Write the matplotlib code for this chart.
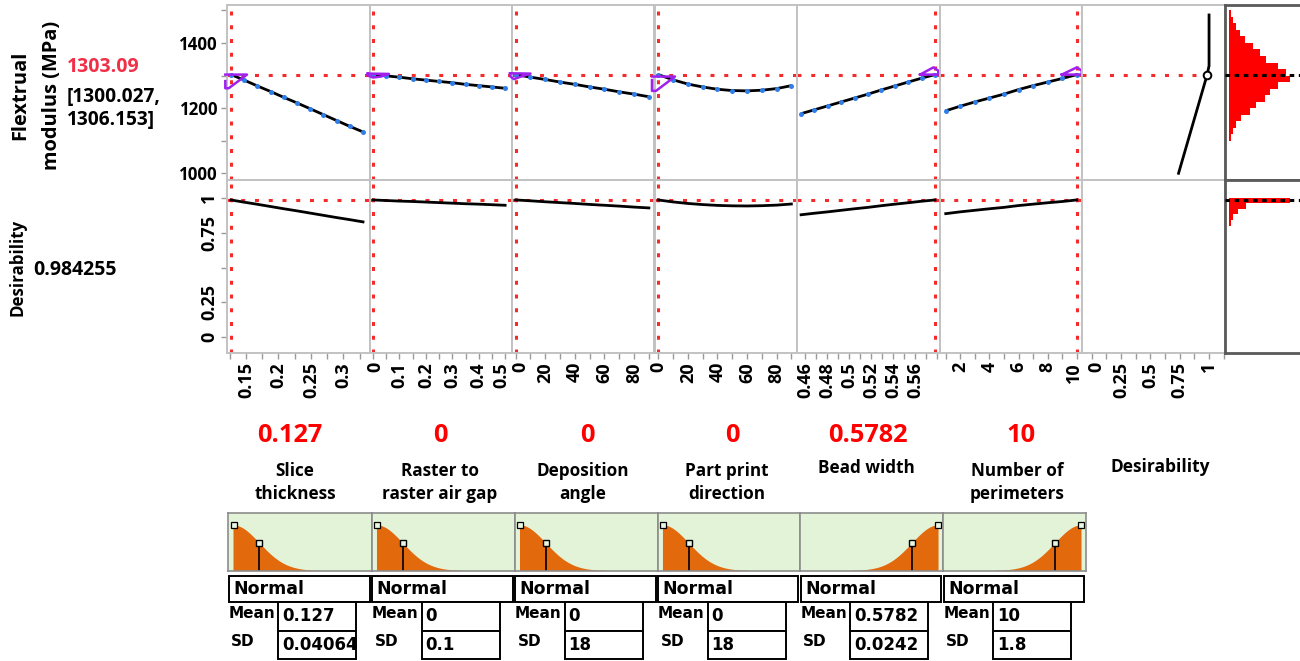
import numpy as np
import matplotlib
matplotlib.use("Agg")
import matplotlib.pyplot as plt
from matplotlib.patches import Rectangle
from matplotlib.transforms import ScaledTranslation

# ---------------- data ----------------
factor_names = ["Slice\nthickness", "Raster to\nraster air gap", "Deposition\nangle",
                "Part print\ndirection", "Bead width", "Number of\nperimeters"]
current_values = [0.127, 0, 0, 0, 0.5782, 10]
current_labels = ["0.127", "0", "0", "0", "0.5782", "10"]
predicted = 1303.09
predicted_label = "1303.09"
ci_label = "[1300.027,\n1306.153]"
desirability = 0.984255
desirability_label = "0.984255"

slice_x = [0.127, 0.1473, 0.1676, 0.1879, 0.2082, 0.2285, 0.2488, 0.2691, 0.2894, 0.3097, 0.330]
slice_flex = [1303, 1286, 1268, 1251, 1233, 1216, 1198, 1180, 1162, 1144, 1127]
slice_des = [0.984, 0.968, 0.953, 0.937, 0.921, 0.906, 0.890, 0.874, 0.858, 0.843, 0.827]

gap_x = [0, 0.05, 0.1, 0.15, 0.2, 0.25, 0.3, 0.35, 0.4, 0.45, 0.5]
gap_flex = [1303, 1299, 1295, 1290, 1286, 1282, 1278, 1273, 1269, 1265, 1261]
gap_des = [0.984, 0.980, 0.976, 0.973, 0.969, 0.965, 0.961, 0.957, 0.954, 0.950, 0.946]

dep_x = [0, 10, 20, 30, 40, 50, 60, 70, 80, 90]
dep_flex = [1303, 1295, 1288, 1280, 1273, 1265, 1258, 1250, 1243, 1235]
dep_des = [0.984, 0.978, 0.971, 0.965, 0.959, 0.952, 0.946, 0.940, 0.933, 0.927]

dir_x = [0, 10, 20, 30, 40, 50, 60, 70, 80, 90]
dir_flex = [1303, 1287, 1274, 1265, 1258, 1254, 1253, 1255, 1260, 1269]
dir_des = [0.984, 0.970, 0.959, 0.951, 0.945, 0.942, 0.941, 0.943, 0.947, 0.955]

bead_x = [0.4564, 0.4686, 0.4808, 0.4929, 0.5051, 0.5173, 0.5295, 0.5417, 0.5538, 0.5660, 0.5782]
bead_flex = [1183, 1195, 1207, 1219, 1231, 1243, 1256, 1268, 1280, 1292, 1303]
bead_des = [0.878, 0.889, 0.899, 0.910, 0.921, 0.931, 0.943, 0.954, 0.964, 0.975, 0.984]

perim_x = [1, 2, 3, 4, 5, 6, 7, 8, 9, 10]
perim_flex = [1192, 1206, 1219, 1231, 1243, 1257, 1269, 1280, 1291, 1303]
perim_des = [0.886, 0.899, 0.910, 0.921, 0.931, 0.944, 0.954, 0.964, 0.973, 0.984]

# desirability function (desirability vs flexural modulus)
dfun_d = [0.74, 0.984255, 1.0, 1.0]
dfun_flex = [1000, 1303.09, 1330, 1486]

# purple interval glyphs
purple_x = [[0.1182, 0.1182, 0.1234, 0.1516, 0.1182],
            [-0.02, 0.06, 0.03, 0.0, -0.02, -0.02],
            [-3.8, 10.0, 3.0, -1.2, -3.8, -3.8],
            [-4.2, -4.2, -1.5, 11.35, -4.2],
            [0.5646, 0.5767, 0.5812, 0.5812, 0.5646],
            [8.97, 10.0, 10.34, 10.34, 8.97]]
purple_y = [[1283, 1261, 1261, 1303, 1303],
            [1306, 1305, 1297, 1294, 1300, 1306],
            [1307, 1306, 1296, 1289, 1298, 1307],
            [1286, 1253, 1253, 1297, 1297],
            [1303, 1325, 1315, 1303, 1303],
            [1303, 1325, 1315, 1303, 1303]]

# simulated distributions (right-hand histograms)
hist_flex_edges = [1100, 1120, 1140, 1160, 1180, 1200, 1220, 1240, 1260, 1280, 1300,
                   1320, 1340, 1360, 1380, 1400, 1420, 1440, 1460, 1480, 1500]
hist_flex_counts = [2, 4, 7, 12, 21, 27, 36, 41, 49, 61, 57, 49, 37, 31, 24, 16, 11, 7, 4, 2]
hist_des_edges = [0.80, 0.84, 0.88, 0.92, 0.96, 1.0]
hist_des_counts = [1.5, 4, 9, 17, 61]

# simulator settings
sim_means = [0.127, 0, 0, 0, 0.5782, 10]
sim_sds = [0.04064, 0.1, 18, 18, 0.0242, 1.8]
sim_mean_labels = ["0.127", "0", "0", "0", "0.5782", "10"]
sim_sd_labels = ["0.04064", "0.1", "18", "18", "0.0242", "1.8"]
sim_tail = [1, 1, 1, 1, -1, -1]

xticks = [[0.15, 0.2, 0.25, 0.3], [0, 0.1, 0.2, 0.3, 0.4, 0.5], [0, 20, 40, 60, 80],
          [0, 20, 40, 60, 80], [0.46, 0.48, 0.5, 0.52, 0.54, 0.56], [2, 4, 6, 8, 10],
          [0, 0.25, 0.5, 0.75, 1]]
xticklabels = [["0.15", "0.2", "0.25", "0.3"], ["0", "0.1", "0.2", "0.3", "0.4", "0.5"],
               ["0", "20", "40", "60", "80"], ["0", "20", "40", "60", "80"],
               ["0.46", "0.48", "0.5", "0.52", "0.54", "0.56"], ["2", "4", "6", "8", "10"],
               ["0", "0.25", "0.5", "0.75", "1"]]

# ---------------- layout ----------------
plt.rcParams['font.family'] = ['Open Sans', 'DejaVu Sans']
plt.rcParams['font.weight'] = 'bold'

W, H = 1300, 661
fig = plt.figure(figsize=(13, 6.61), dpi=100)
fig.patch.set_facecolor('white')

def R(x0, y0, x1, y1):
    return [x0 / W, 1 - y1 / H, (x1 - x0) / W, (y1 - y0) / H]

def nudge(label, dx_px):
    label.set_transform(label.get_transform() +
                        ScaledTranslation(dx_px / fig.dpi, 0, fig.dpi_scale_trans))

xe = [227, 369.5, 512, 654.5, 797, 939.5, 1082, 1225]
xlims = [(0.1208, 0.340), (-0.0135, 0.526), (-2.5, 93.8), (-2.5, 93.8),
         (0.4527, 0.5823), (0.57, 10.36), (-0.083, 1.136)]
minor_steps = [0.025, 0.05, 10, 10, 0.01, 1, 0.125]
# small horizontal shifts (px) of crowded tick labels at panel joins
label_shift = {(1, 5): -4, (2, 0): 5, (5, 4): -3, (6, 0): 5, (1, 0): 2}
top_ylim = (979.4, 1516.6)
bot_ylim = (-0.112, 1.127)

RED = '#f52a2a'
GRID = '#c2c2c2'
BLUE = '#2f7fe8'
PURPLE = '#a020f0'
red_kw = dict(color=RED, lw=2.2, dashes=(1.3, 3.2), zorder=1)

curves_x = [slice_x, gap_x, dep_x, dir_x, bead_x, perim_x]
curves_f = [slice_flex, gap_flex, dep_flex, dir_flex, bead_flex, perim_flex]
curves_d = [slice_des, gap_des, dep_des, dir_des, bead_des, perim_des]

def style(ax, color=GRID, lw=1.4):
    for s in ax.spines.values():
        s.set_color(color)
        s.set_linewidth(lw)
    ax.tick_params(which='both', direction='out', length=4.5, width=1.0, color='#9a9a9a',
                   labelsize=13, pad=2)

for i in range(7):
    axt = fig.add_axes(R(xe[i], 5, xe[i + 1], 180))
    axb = fig.add_axes(R(xe[i], 180, xe[i + 1], 353))
    for ax in (axt, axb):
        style(ax)
        ax.set_xlim(*xlims[i])
    axt.set_ylim(*top_ylim)
    axb.set_ylim(*bot_ylim)
    axt.set_xticks([])
    axb.set_xticks(xticks[i])
    axb.set_xticklabels(xticklabels[i], rotation=90)
    for j, lab in enumerate(axb.get_xticklabels()):
        if (i, j) in label_shift:
            nudge(lab, label_shift[(i, j)])
    lo, hi = xlims[i]
    st = minor_steps[i]
    mn = np.arange(np.ceil(lo / st) * st, hi, st)
    axb.set_xticks(mn, minor=True)
    if i == 0:
        axt.set_yticks([1000, 1200, 1400])
        axt.set_yticklabels(["1000", "1200", "1400"])
        axt.set_yticks([1100, 1300, 1500], minor=True)
        axt.tick_params(axis='y', labelsize=12.2)
        axb.set_yticks([0, 0.25, 0.5, 0.75, 1])
        axb.set_yticklabels(["0", "0.25", "", "0.75", "1"], rotation=90, va='center')
    else:
        axt.set_yticks([])
        axb.set_yticks([])
    axt.tick_params(axis='x', which='both', length=0)

    if i < 6:
        xs, fs, ds = curves_x[i], curves_f[i], curves_d[i]
        axt.axhline(predicted, **red_kw)
        axb.axhline(desirability, **red_kw)
        axt.axvline(current_values[i], **red_kw)
        axb.axvline(current_values[i], **red_kw)
        axt.plot(xs, fs, color='black', lw=2.0, zorder=3, solid_capstyle='butt')
        axt.plot(xs, fs, 'o', color=BLUE, ms=3.6, mew=0, zorder=4)
        axb.plot(xs, ds, color='black', lw=2.0, zorder=3)
        axt.plot(purple_x[i], purple_y[i], color=PURPLE, lw=1.8, zorder=5, clip_on=False)
    else:
        axt.plot([lo, desirability], [predicted, predicted], **red_kw)
        axt.plot(dfun_d, dfun_flex, color='black', lw=2.0, zorder=3)
        axt.plot([desirability], [predicted], 'o', mfc='white', mec='black', ms=5.5, mew=1.4,
                 zorder=4)

# right-hand histograms
hx0 = 1225
for (y0, y1, edges, counts, ylim, yline) in [
        (5, 180, hist_flex_edges, hist_flex_counts, top_ylim, predicted),
        (180, 353, hist_des_edges, hist_des_counts, bot_ylim, desirability)]:
    ah = fig.add_axes(R(hx0, y0, hx0 + 95, y1))
    style(ah, color='#5a5a5a', lw=2.0)
    ah.set_xticks([])
    ah.set_yticks([])
    ah.set_ylim(*ylim)
    ah.set_xlim(-4, 91)
    e = np.array(edges)
    ah.barh(e[:-1], counts, height=np.diff(e), left=0, align='edge', color='#ff0000',
            edgecolor='none', zorder=2)
    ah.axhline(yline, color='black', lw=2.2, dashes=(1.5, 1.5), zorder=3)

# overlay in pixel coordinates
ov = fig.add_axes([0, 0, 1, 1])
ov.set_xlim(0, W)
ov.set_ylim(H, 0)
ov.axis('off')
ov.set_zorder(-1)

ov.text(36, 95, "Flextrual\nmodulus (MPa)", rotation=90, ha='center', va='center',
        fontsize=14.4, linespacing=1.78, multialignment='center')
ov.text(67, 66.5, predicted_label, color='#f03048', fontsize=14, ha='left', va='center')
ov.text(67, 108.5, ci_label, color='black', fontsize=13.8, ha='left', va='center',
        linespacing=1.22)
ov.text(18, 267, "Desirability", rotation=90, ha='center', va='center', fontsize=12.2)
ov.text(33, 270, desirability_label, fontsize=14, ha='left', va='center')

val_x = [290, 440, 587, 732, 868, 1021]
name_x = [295, 440, 583, 727, 866, 1017]
for i in range(6):
    ov.text(val_x[i], 435, current_labels[i], color='#ff0000', fontsize=18.3, ha='center',
            va='center')
    if "\n" in factor_names[i]:
        ov.text(name_x[i], 482.5, factor_names[i], fontsize=12.3, ha='center', va='center',
                linespacing=1.42, multialignment='center')
    else:
        ov.text(name_x[i], 468, factor_names[i], fontsize=12.3, ha='center', va='center')
ov.text(1160, 467, "Desirability", fontsize=12.5, ha='center', va='center')

# simulator panels
bx = [228, 371.5, 514.5, 657.5, 800, 943, 1086]
SIM_FONT = ['DejaVu Sans']
for i in range(6):
    x0, x1 = bx[i], bx[i + 1]
    asim = fig.add_axes(R(x0, 512.5, x1, 570.5))
    asim.set_facecolor('#e2f3d8')
    style(asim, color='#8c8c8c', lw=1.2)
    asim.set_xticks([])
    asim.set_yticks([])
    m, s, side = sim_means[i], sim_sds[i], sim_tail[i]
    if side > 0:
        asim.set_xlim(m - 0.19 * s, m + 5.27 * s)
    else:
        asim.set_xlim(m - 5.27 * s, m + 0.19 * s)
    asim.set_ylim(0, 1.27)
    z = np.linspace(0, 3.3, 120)
    asim.fill_between(m + side * z * s, 0, np.exp(-0.5 * z ** 2), color='#e2690c', lw=0)
    asim.plot([m + side * s] * 2, [0, np.exp(-0.5)], color='black', lw=1.2)
    asim.plot([m + side * s], [np.exp(-0.5)], 's', mfc='#eaf7e4', mec='black', ms=5, mew=1.0)
    asim.plot([m + side * 0.02 * s], [1.0], 's', mfc='#eaf7e4', mec='black', ms=4, mew=0.9,
              clip_on=False)

    ov.add_patch(Rectangle((x0 + 0.5, 576), (x1 - x0) - 2.5, 25.5, facecolor='white',
                           edgecolor='black', lw=1.4))
    ov.text(x0 + 5, 589, "Normal", family=SIM_FONT, fontsize=12.5, ha='left', va='center')
    ov.add_patch(Rectangle((x0 + 50, 601.5), 78, 29, facecolor='white', edgecolor='black',
                           lw=1.4))
    ov.add_patch(Rectangle((x0 + 50, 630.5), 78, 28.5, facecolor='white', edgecolor='black',
                           lw=1.4))
    ov.text(x0 + 0.5, 614, "Mean", family=SIM_FONT, fontsize=11, ha='left', va='center')
    ov.text(x0 + 3, 642, "SD", family=SIM_FONT, fontsize=11, ha='left', va='center')
    ov.text(x0 + 54, 616, sim_mean_labels[i], family=SIM_FONT, fontsize=12, ha='left',
            va='center')
    ov.text(x0 + 54, 645, sim_sd_labels[i], family=SIM_FONT, fontsize=12, ha='left',
            va='center')

fig.savefig("out.png", dpi=100, facecolor='white')
